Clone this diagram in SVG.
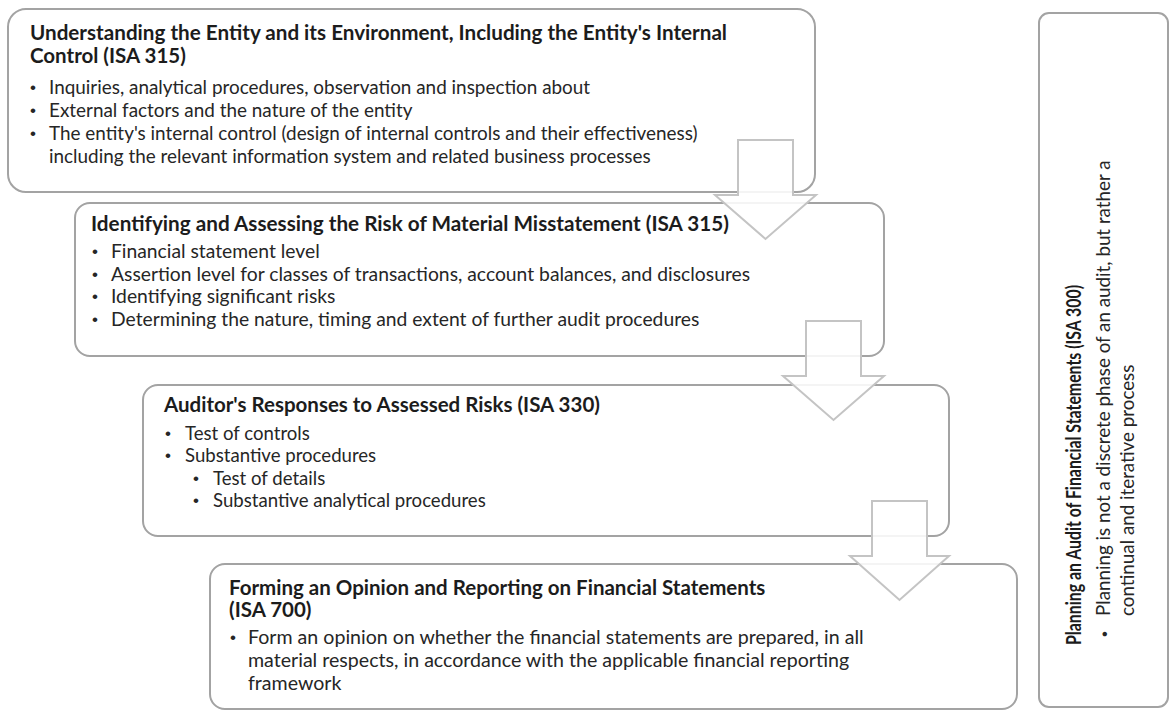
<svg xmlns="http://www.w3.org/2000/svg" width="1170" height="711" viewBox="0 0 1170 711">
<style>
.box{fill:#ffffff;stroke:#a3a3a3;stroke-width:2}
.arr{fill:#ffffff;fill-opacity:0.88;stroke:#c4c4c4;stroke-width:2;stroke-linejoin:miter}
.t{font-family:Lato,"Liberation Sans",sans-serif;font-size:20.5px;font-weight:bold;fill:#1c1c1c}
.b{font-family:Lato,"Liberation Sans",sans-serif;fill:#262626}
.d{font-family:"Liberation Sans",Arial,sans-serif;font-size:17px;fill:#262626}
</style>
<rect width="1170" height="711" fill="#ffffff"/>
<g id="box1">
<rect class="box" x="8" y="9" width="807" height="183" rx="18"/>
<text class="t" x="30" y="40" textLength="697" lengthAdjust="spacingAndGlyphs">Understanding the Entity and its Environment, Including the Entity's Internal</text>
<text class="t" x="30" y="63">Control (ISA 315)</text>
<g class="b" font-size="18.9">
<text class="d" x="30" y="93">•</text><text x="49" y="94">Inquiries, analytical procedures, observation and inspection about</text>
<text class="d" x="30" y="116">•</text><text x="49" y="117">External factors and the nature of the entity</text>
<text class="d" x="30" y="139">•</text><text x="49" y="140">The entity's internal control (design of internal controls and their effectiveness)</text>
<text x="49" y="163">including the relevant information system and related business processes</text>
</g>
</g>
<g id="box2">
<rect class="box" x="75" y="203" width="809" height="153" rx="15"/>
<text class="t" x="91" y="231" textLength="638" lengthAdjust="spacingAndGlyphs">Identifying and Assessing the Risk of Material Misstatement (ISA 315)</text>
<g class="b" font-size="19.3">
<text class="d" x="92" y="257">•</text><text x="111" y="258">Financial statement level</text>
<text class="d" x="92" y="280">•</text><text x="111" y="281">Assertion level for classes of transactions, account balances, and disclosures</text>
<text class="d" x="92" y="302">•</text><text x="111" y="303">Identifying significant risks</text>
<text class="d" x="92" y="325">•</text><text x="111" y="326">Determining the nature, timing and extent of further audit procedures</text>
</g>
</g>
<g id="box3">
<rect class="box" x="143" y="385" width="806" height="151" rx="15"/>
<text class="t" x="164" y="412">Auditor's Responses to Assessed Risks (ISA 330)</text>
<g class="b" font-size="18.6">
<text class="d" x="165" y="439">•</text><text x="185" y="440">Test of controls</text>
<text class="d" x="165" y="461">•</text><text x="185" y="462">Substantive procedures</text>
<text class="d" x="193" y="484">•</text><text x="213" y="485">Test of details</text>
<text class="d" x="193" y="506">•</text><text x="213" y="507">Substantive analytical procedures</text>
</g>
</g>
<g id="box4">
<rect class="box" x="210" y="564" width="807" height="145" rx="15"/>
<text class="t" x="229" y="595">Forming an Opinion and Reporting on Financial Statements</text>
<text class="t" x="229" y="617">(ISA 700)</text>
<g class="b" font-size="19.6">
<text class="d" x="230" y="643">•</text><text x="248" y="644">Form an opinion on whether the financial statements are prepared, in all</text>
<text x="248" y="667">material respects, in accordance with the applicable financial reporting</text>
<text x="248" y="690">framework</text>
</g>
</g>
<g id="planning">
<rect class="box" x="1039" y="13" width="129" height="694" rx="10"/>
<text class="t" font-size="19" textLength="360" lengthAdjust="spacingAndGlyphs" transform="translate(1081,645) rotate(-90)">Planning an Audit of Financial Statements (ISA 300)</text>
<text class="d" transform="translate(1110,637) rotate(-90)">•</text>
<text class="b" font-size="18.8" transform="translate(1110,616) rotate(-90)">Planning is not a discrete phase of an audit, but rather a</text>
<text class="b" font-size="18.8" transform="translate(1134,616) rotate(-90)">continual and iterative process</text>
</g>
<g id="connectors">
<polygon class="arr" points="738,140 793,140 793,195 816,195 765.5,239 715,195 738,195"/>
<polygon class="arr" points="806,321 861,321 861,376 884,376 833.5,420 783,376 806,376"/>
<polygon class="arr" points="872,501 927,501 927,556 949,556 899.5,600 850,556 872,556"/>
</g>
</svg>
